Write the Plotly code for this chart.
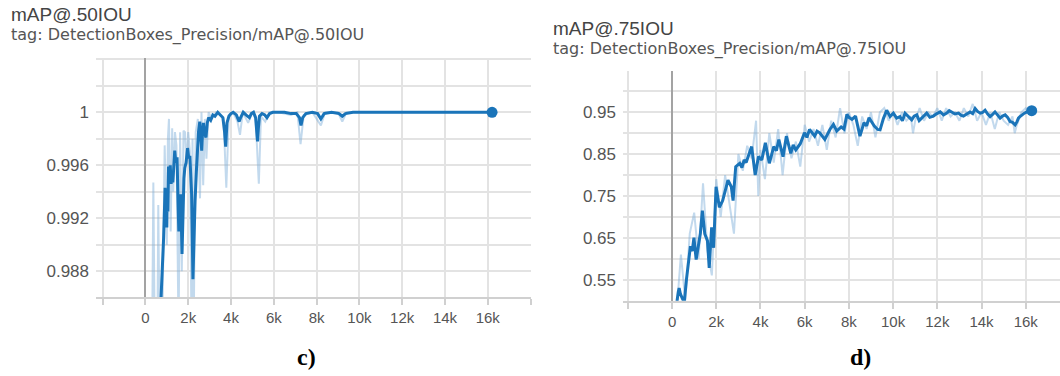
import plotly.graph_objects as go

W, H = 1060, 376

# ---------------- data: panel c) mAP@.50IOU ----------------
c_smooth_steps = [600, 730, 850, 920, 950, 970, 1000, 1020, 1050, 1080, 1120, 1160, 1200, 1240,
                  1280, 1330, 1370, 1420, 1480, 1520, 1560, 1600, 1650, 1710, 1760, 1800, 1840,
                  1900, 1970, 2020, 2080, 2120, 2160, 2220, 2270, 2320, 2380, 2430, 2480, 2540,
                  2580, 2630, 2670, 2710, 2770, 2830, 2890, 2950, 3050, 3150, 3250, 3380, 3500,
                  3620, 3700, 3750, 3810, 3900, 4000, 4100, 4250, 4380, 4450, 4570, 4700, 4860,
                  4950, 5050, 5150, 5200, 5240, 5280, 5330, 5450, 5580, 5680, 5800, 5950, 6200,
                  6500, 6800, 7050, 7200, 7270, 7350, 7500, 7800, 8050, 8200, 8350, 8700, 9050,
                  9200, 9350, 9700, 10200, 11000, 12000, 13000, 14000, 15000, 16200]
c_smooth_vals = [0.9835, 0.9860, 0.9905, 0.9943, 0.9915, 0.9940, 0.9913, 0.9942, 0.9925, 0.9959,
                 0.9950, 0.9960, 0.9946, 0.9955, 0.9947, 0.9966, 0.9971, 0.9962, 0.9966, 0.9935,
                 0.9910, 0.9930, 0.9938, 0.9893, 0.9935, 0.9950, 0.9958, 0.9962, 0.9973, 0.9966,
                 0.9966, 0.9950, 0.9938, 0.9874, 0.9910, 0.9933, 0.9955, 0.9973, 0.9985, 0.9993,
                 0.9980, 0.9971, 0.9985, 0.9992, 0.9984, 0.9981, 0.9992, 0.9996, 0.9994, 0.9998,
                 0.9997, 1.0000, 0.9998, 0.9996, 0.9985, 0.9974, 0.9992, 0.9997, 0.9999, 1.0000,
                 0.9998, 0.9993, 0.9996, 1.0000, 0.9998, 0.9996, 0.9999, 1.0000, 0.9996, 0.9985,
                 0.9978, 0.9988, 0.9997, 0.9999, 0.9998, 0.9996, 0.9999, 1.0000, 1.0000, 1.0000,
                 0.9999, 0.9999, 0.9996, 0.9990, 0.9996, 0.9999, 1.0000, 0.9999, 0.9995, 0.9999,
                 1.0000, 0.9999, 0.9997, 0.9999, 1.0000, 1.0000, 1.0000, 1.0000, 1.0000, 1.0000,
                 1.0000, 1.0000]
c_raw_steps = [300, 370, 450, 550, 600, 680, 800, 900, 1000, 1050, 1100, 1180, 1250, 1300, 1380,
               1450, 1550, 1620, 1700, 1780, 1850, 1920, 2000, 2080, 2150, 2200, 2250, 2350, 2450,
               2550, 2620, 2700, 2780, 2850, 2950, 3100, 3300, 3500, 3650, 3780, 3900, 4100, 4300,
               4420, 4550, 4800, 5000, 5150, 5300, 5400, 5600, 5800, 6200, 6800, 7100, 7250, 7400,
               7800, 8200, 8400, 9000, 9200, 9400, 10000, 16200]
c_raw_vals = [0.9800, 0.9947, 0.9800, 0.9800, 0.9930, 0.9800, 0.9850, 0.9975, 0.9900, 0.9980,
              0.9995, 0.9910, 0.9988, 0.9940, 0.9985, 0.9975, 0.9830, 0.9985, 0.9880, 0.9986,
              0.9985, 0.9960, 0.9985, 0.9970, 0.9840, 0.9980, 0.9830, 0.9985, 0.9995, 0.9935,
              1.0000, 0.9945, 0.9995, 0.9965, 1.0000, 0.9995, 1.0000, 0.9998, 0.9995, 0.9943,
              0.9998, 1.0000, 0.9993, 0.9983, 1.0000, 0.9992, 1.0000, 0.9995, 0.9946, 0.9997,
              0.9993, 1.0000, 1.0000, 0.9998, 1.0000, 0.9976, 0.9998, 1.0000, 0.9990, 1.0000,
              1.0000, 0.9993, 1.0000, 1.0000, 1.0000]

# ---------------- data: panel d) mAP@.75IOU ----------------
d_smooth_steps = [150, 220, 280, 320, 380, 450, 550, 650, 750, 830, 910, 990, 1090, 1190, 1280,
                  1370, 1480, 1600, 1680, 1790, 1880, 1990, 2140, 2290, 2400, 2530, 2680, 2760,
                  2880, 3060, 3160, 3260, 3350, 3450, 3600, 3760, 3910, 4060, 4220, 4400, 4500,
                  4600, 4720, 4830, 5020, 5170, 5370, 5480, 5600, 5800, 5990, 6100, 6220, 6450,
                  6560, 6680, 6910, 7020, 7140, 7300, 7450, 7650, 7780, 7910, 8000, 8140, 8300,
                  8500, 8680, 8800, 8910, 9150, 9300, 9410, 9560, 9710, 9860, 10010, 10160, 10310,
                  10420, 10540, 10690, 10840, 10950, 11070, 11180, 11300, 11400, 11520, 11660,
                  11820, 11980, 12130, 12280, 12430, 12540, 12650, 12800, 12960, 13070, 13180,
                  13330, 13480, 13600, 13710, 13820, 13940, 14050, 14160, 14280, 14390, 14500,
                  14610, 14720, 14840, 14950, 15070, 15180, 15290, 15400, 15520, 15600, 15670,
                  15740, 15820, 15940, 16050, 16160, 16270]
d_smooth_vals = [0.490, 0.497, 0.520, 0.530, 0.515, 0.505, 0.495, 0.550, 0.594, 0.630, 0.618,
                 0.650, 0.598, 0.626, 0.660, 0.715, 0.659, 0.643, 0.578, 0.675, 0.626, 0.772,
                 0.723, 0.739, 0.760, 0.788, 0.772, 0.739, 0.820, 0.828, 0.818, 0.836, 0.830,
                 0.844, 0.868, 0.800, 0.844, 0.836, 0.877, 0.828, 0.850, 0.868, 0.858, 0.885,
                 0.844, 0.893, 0.852, 0.872, 0.860, 0.875, 0.901, 0.890, 0.909, 0.893, 0.905,
                 0.901, 0.885, 0.898, 0.909, 0.921, 0.905, 0.915, 0.910, 0.945, 0.938, 0.933,
                 0.941, 0.893, 0.925, 0.918, 0.937, 0.917, 0.909, 0.908, 0.935, 0.955, 0.940,
                 0.948, 0.936, 0.9395, 0.930, 0.948, 0.940, 0.932, 0.941, 0.944, 0.930, 0.936,
                 0.943, 0.948, 0.938, 0.941, 0.947, 0.951, 0.944, 0.948, 0.954, 0.951, 0.946,
                 0.948, 0.943, 0.941, 0.946, 0.951, 0.947, 0.959, 0.952, 0.948, 0.950, 0.955,
                 0.946, 0.9395, 0.945, 0.951, 0.944, 0.936, 0.941, 0.944, 0.938, 0.928, 0.926,
                 0.920, 0.927, 0.936, 0.940, 0.944, 0.948, 0.951, 0.955, 0.954]
d_raw_steps = [200, 400, 600, 800, 1000, 1200, 1400, 1600, 1800, 2000, 2200, 2400, 2600, 2800,
               3000, 3200, 3400, 3600, 3800, 3900, 4000, 4200, 4400, 4600, 4800, 5000, 5200, 5400,
               5600, 5800, 6000, 6200, 6400, 6600, 6800, 7000, 7200, 7400, 7600, 7800, 8000, 8200,
               8400, 8600, 8800, 9000, 9200, 9400, 9600, 9800, 10000, 10200, 10400, 10600, 10800,
               10900, 11000, 11200, 11400, 11600, 11800, 12000, 12200, 12400, 12600, 12800, 13000,
               13200, 13400, 13600, 13800, 14000, 14200, 14400, 14600, 14800, 15000, 15200, 15400,
               15500, 15600, 15800, 16000, 16200]
d_raw_vals = [0.47, 0.61, 0.50, 0.66, 0.71, 0.60, 0.78, 0.62, 0.56, 0.79, 0.70, 0.80, 0.73, 0.66,
              0.85, 0.81, 0.87, 0.84, 0.93, 0.75, 0.86, 0.79, 0.90, 0.83, 0.91, 0.80, 0.90, 0.84,
              0.88, 0.82, 0.92, 0.88, 0.91, 0.87, 0.92, 0.86, 0.93, 0.89, 0.96, 0.90, 0.95, 0.92,
              0.87, 0.94, 0.91, 0.95, 0.89, 0.95, 0.96, 0.93, 0.95, 0.92, 0.95, 0.93, 0.94, 0.90,
              0.93, 0.96, 0.93, 0.95, 0.94, 0.96, 0.93, 0.96, 0.94, 0.95, 0.93, 0.96, 0.94, 0.97,
              0.93, 0.95, 0.92, 0.95, 0.91, 0.95, 0.93, 0.92, 0.94, 0.90, 0.92, 0.95, 0.96, 0.95]

x_tickvals = [-2000, 0, 2000, 4000, 6000, 8000, 10000, 12000, 14000, 16000, 18000]
x_ticktext = ["", "0", "2k", "4k", "6k", "8k", "10k", "12k", "14k", "16k", ""]
c_ytickvals = [0.988, 0.992, 0.996, 1.0]
c_yticktext = ["0.988", "0.992", "0.996", "1"]
d_ytickvals = [0.55, 0.65, 0.75, 0.85, 0.95]
d_yticktext = ["0.55", "0.65", "0.75", "0.85", "0.95"]

LINE = "#1a74b9"
RAW = "rgba(120,170,215,0.45)"
GRID = "#e3e3e3"
SANS = "Liberation Sans, Arial, sans-serif"
WIDE = "DejaVu Sans, Verdana, sans-serif"
TICKFONT = dict(family=SANS, size=15, color="#555")


def px_x(p):
    return p / W


def px_y(p):
    return 1 - p / H


fig = go.Figure()
# panel c
fig.add_trace(go.Scatter(x=c_raw_steps, y=c_raw_vals, mode="lines", line=dict(color=RAW, width=2),
                         xaxis="x", yaxis="y", hoverinfo="skip"))
fig.add_trace(go.Scatter(x=c_smooth_steps, y=c_smooth_vals, mode="lines", line=dict(color=LINE, width=3),
                         xaxis="x", yaxis="y"))
fig.add_trace(go.Scatter(x=[c_smooth_steps[-1]], y=[c_smooth_vals[-1]], mode="markers",
                         marker=dict(color=LINE, size=11), xaxis="x", yaxis="y", cliponaxis=False))
# panel d
fig.add_trace(go.Scatter(x=d_raw_steps, y=d_raw_vals, mode="lines", line=dict(color=RAW, width=2),
                         xaxis="x2", yaxis="y2", hoverinfo="skip"))
fig.add_trace(go.Scatter(x=d_smooth_steps, y=d_smooth_vals, mode="lines", line=dict(color=LINE, width=3),
                         xaxis="x2", yaxis="y2"))
fig.add_trace(go.Scatter(x=[d_smooth_steps[-1]], y=[d_smooth_vals[-1]], mode="markers",
                         marker=dict(color=LINE, size=11), xaxis="x2", yaxis="y2", cliponaxis=False))

xcommon = dict(tickvals=x_tickvals, ticktext=x_ticktext, showgrid=True, gridcolor=GRID, gridwidth=2,
               zeroline=True, zerolinecolor="#a3a3a3", zerolinewidth=2, showline=True,
               linecolor="#d0d0d0", linewidth=2, ticks="outside", ticklen=6, tickcolor="#d0d0d0",
               tickwidth=2, tickfont=TICKFONT, fixedrange=True)
ycommon = dict(showgrid=True, gridcolor=GRID, gridwidth=2, zeroline=False, showline=False,
               ticks="", tickfont=dict(family=SANS, size=17, color="#555"), ticklabelstandoff=6,
               fixedrange=True)

fig.update_layout(
    width=W, height=H, margin=dict(l=0, r=0, t=0, b=0),
    paper_bgcolor="white", plot_bgcolor="white", showlegend=False,
    xaxis=dict(domain=[px_x(96), px_x(531)], range=[-2310, 18020], anchor="y", **xcommon),
    yaxis=dict(domain=[px_y(297), px_y(58)], range=[0.98605, 1.0041], anchor="x",
               tickvals=c_ytickvals, ticktext=c_yticktext,
               minor=dict(tick0=0.986, dtick=0.002, showgrid=True, gridcolor=GRID, gridwidth=2),
               **ycommon),
    xaxis2=dict(domain=[px_x(623), px_x(1060)], range=[-2220, 17550], anchor="y2", **xcommon),
    yaxis2=dict(domain=[px_y(300.7), px_y(70.5)], range=[0.4995, 1.05], anchor="x2",
                tickvals=d_ytickvals, ticktext=d_yticktext,
                minor=dict(tick0=0.5, dtick=0.05, showgrid=True, gridcolor=GRID, gridwidth=2),
                **ycommon),
)

ann = [
    dict(text="mAP@.50IOU", x=px_x(10), y=px_y(14), font=dict(family=SANS, size=19, color="#444")),
    dict(text="tag: DetectionBoxes_Precision/mAP@.50IOU", x=px_x(10), y=px_y(35),
         font=dict(family=WIDE, size=16, color="#555")),
    dict(text="mAP@.75IOU", x=px_x(552), y=px_y(28), font=dict(family=SANS, size=19, color="#444")),
    dict(text="tag: DetectionBoxes_Precision/mAP@.75IOU", x=px_x(552), y=px_y(49),
         font=dict(family=WIDE, size=16, color="#555")),
]
for a in ann:
    fig.add_annotation(xref="paper", yref="paper", xanchor="left", yanchor="middle",
                       showarrow=False, borderpad=0, **a)
for lbl, cx in [("c)", 306), ("d)", 860)]:
    fig.add_annotation(text="<b>" + lbl + "</b>", xref="paper", yref="paper", x=px_x(cx), y=px_y(357),
                       xanchor="center", yanchor="middle", showarrow=False,
                       font=dict(family="Liberation Serif, Times New Roman, serif", size=24, color="black"))

fig.write_html("out.html", config={"displayModeBar": False},
               post_script="document.body.style.margin='0';")
